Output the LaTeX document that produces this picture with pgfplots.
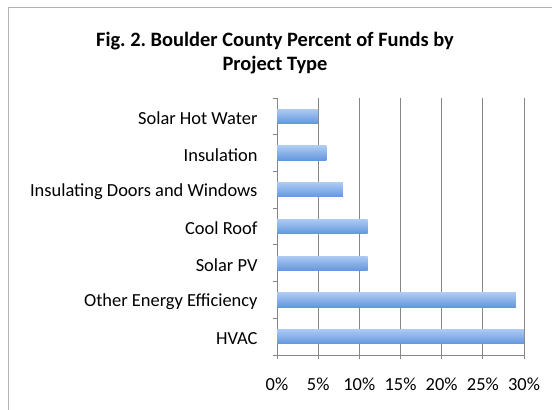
\documentclass[border=0pt]{standalone}
\usepackage{fontspec}
\setmainfont{Carlito}
\usepackage{pgfplots}
\pgfplotsset{compat=1.18}
\definecolor{gridg}{RGB}{135,135,135}
\definecolor{bartop}{RGB}{172,202,242}
\definecolor{barmid}{RGB}{122,168,232}
\definecolor{barbot}{RGB}{100,150,222}
\pgfplotsset{mybar/.style={xbar, bar width=0.39, bar shift=0pt, draw=none, top color=bartop, middle color=barmid, bottom color=barbot}}
\begin{document}
\frenchspacing
\begin{tikzpicture}[x=1bp,y=1bp]
\path[use as bounding box] (0bp,0bp) rectangle (552bp,410bp);
\draw[gray!60, line width=1.5bp] (8.5bp,-5bp) -- (8.5bp,402.5bp) -- (560bp,402.5bp);
\node[font=\bfseries\fontsize{20.5}{23.5}\selectfont, align=center] at (275bp,357bp) {Fig. 2. Boulder County Percent of Funds by\\Project Type};
\begin{axis}[at={(277bp,55bp)}, anchor=south west, scale only axis,
  width=247bp, height=257bp,
  xmin=0, xmax=30, ymin=-0.5, ymax=6.5,
  axis x line=bottom, axis y line=left,
  axis line style={-, draw=gridg, line width=0.9bp},
  xtick={0,5,...,30},
  xticklabel={\pgfmathprintnumber{\tick}\%},
  /pgf/number format/assume math mode=true,
  xmajorgrids, grid style={draw=gridg, line width=0.9bp},
  ytick={0,...,6},
  yticklabels={HVAC, Other Energy Efficiency, Solar PV, Cool Roof, Insulating Doors and Windows, Insulation, Solar Hot Water},
  minor ytick={-0.5,0.5,...,6.5},
  tick align=outside,
  major tick length=4bp, minor tick length=4bp,
  y tick style={draw=none},
  minor y tick style={draw=gridg, line width=0.9bp},
  x tick style={draw=gridg, line width=0.9bp},
  tick label style={font=\fontsize{18.5}{21}\selectfont, text=black},
  xticklabel style={yshift=-15bp},
  yticklabel style={xshift=-12bp, yshift=-2bp},
]
\addplot[mybar] coordinates {(30,0)};
\addplot[mybar] coordinates {(29,1)};
\addplot[mybar] coordinates {(11,2)};
\addplot[mybar] coordinates {(11,3)};
\addplot[mybar] coordinates {(8,4)};
\addplot[mybar] coordinates {(6,5)};
\addplot[mybar] coordinates {(5,6)};
\end{axis}
\end{tikzpicture}
\end{document}
